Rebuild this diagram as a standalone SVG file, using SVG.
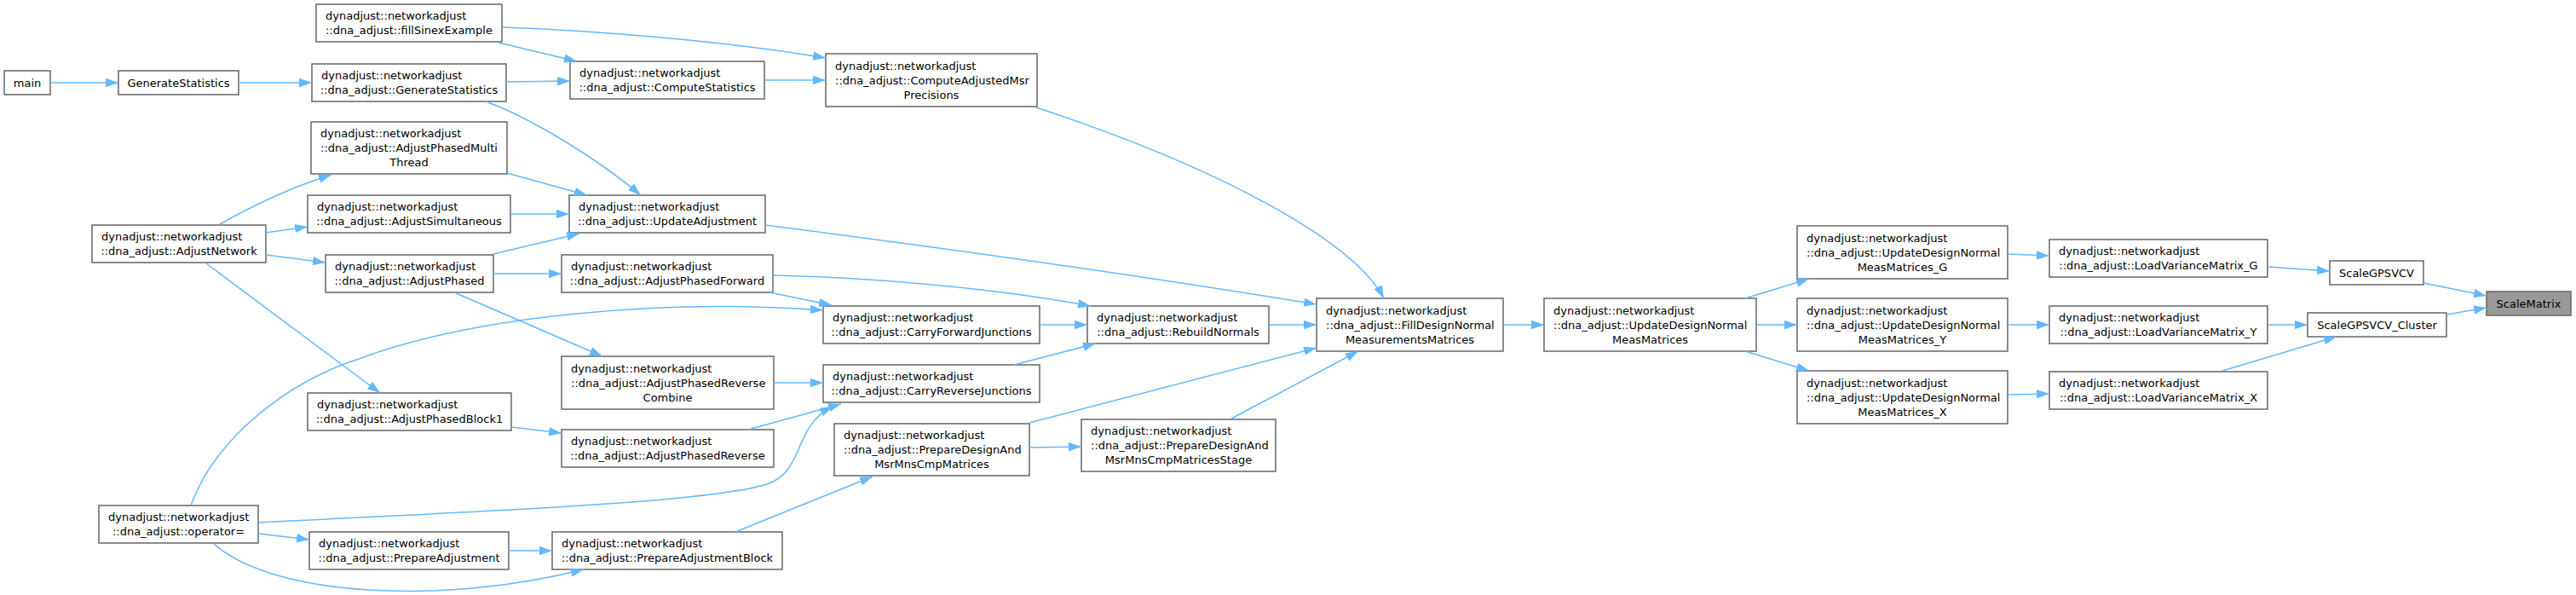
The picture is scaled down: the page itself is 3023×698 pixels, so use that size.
<svg xmlns="http://www.w3.org/2000/svg" width="3023" height="698" viewBox="0 0 3023 698">
<defs>
<style>
.node rect{fill:#ffffff;stroke:#666666;stroke-width:1.5}
.node.hl rect{fill:#999999}
text{font-family:"DejaVu Sans","Liberation Sans",sans-serif;font-size:13px;fill:#000000}
.c{text-anchor:middle}
.edges path{fill:none;stroke:#63b8ff;stroke-width:1.5;marker-end:url(#arr)}
</style>
<marker id="arr" markerUnits="userSpaceOnUse" markerWidth="16" markerHeight="11" refX="15" refY="5.25" orient="auto">
<path d="M0,0 L15,5.25 L0,10.5 z" fill="#63b8ff" stroke="none"/>
</marker>
</defs>
<rect x="0" y="0" width="3023" height="698" fill="#ffffff"/>

<g id="n_main" class="node"><rect x="5" y="83" width="54" height="28"/><text class="c" x="32" y="101.5">main</text></g>
<g id="n_GenerateStatistics" class="node"><rect x="139" y="83" width="141" height="28"/><text class="c" x="209.5" y="101.5">GenerateStatistics</text></g>
<g id="n_dna_GenerateStatistics" class="node"><rect x="366" y="75" width="228" height="44"/><text x="377" y="93">dynadjust::networkadjust</text><text class="c" x="480" y="110">::dna_adjust::GenerateStatistics</text></g>
<g id="n_fillSinexExample" class="node"><rect x="371" y="5" width="218" height="44"/><text x="382" y="23">dynadjust::networkadjust</text><text class="c" x="480" y="40">::dna_adjust::fillSinexExample</text></g>
<g id="n_ComputeStatistics" class="node"><rect x="669" y="72" width="228" height="44"/><text x="680" y="90">dynadjust::networkadjust</text><text class="c" x="783" y="107">::dna_adjust::ComputeStatistics</text></g>
<g id="n_ComputeAdjustedMsrPrecisions" class="node"><rect x="969" y="63" width="248" height="62"/><text x="980" y="81.5">dynadjust::networkadjust</text><text x="980" y="98.5">::dna_adjust::ComputeAdjustedMsr</text><text class="c" x="1093" y="115.5">Precisions</text></g>
<g id="n_AdjustPhasedMultiThread" class="node"><rect x="365" y="143" width="230" height="61"/><text x="376" y="161">dynadjust::networkadjust</text><text x="376" y="178">::dna_adjust::AdjustPhasedMulti</text><text class="c" x="480" y="195">Thread</text></g>
<g id="n_AdjustSimultaneous" class="node"><rect x="361" y="229" width="238" height="44"/><text x="372" y="247">dynadjust::networkadjust</text><text class="c" x="480" y="264">::dna_adjust::AdjustSimultaneous</text></g>
<g id="n_UpdateAdjustment" class="node"><rect x="668" y="229" width="230" height="44"/><text x="679" y="247">dynadjust::networkadjust</text><text class="c" x="783" y="264">::dna_adjust::UpdateAdjustment</text></g>
<g id="n_AdjustNetwork" class="node"><rect x="108" y="264" width="204" height="44"/><text x="119" y="282">dynadjust::networkadjust</text><text class="c" x="210" y="299">::dna_adjust::AdjustNetwork</text></g>
<g id="n_AdjustPhased" class="node"><rect x="382" y="299" width="197" height="44"/><text x="393" y="317">dynadjust::networkadjust</text><text class="c" x="480.5" y="334">::dna_adjust::AdjustPhased</text></g>
<g id="n_AdjustPhasedForward" class="node"><rect x="659" y="299" width="248" height="44"/><text x="670" y="317">dynadjust::networkadjust</text><text class="c" x="783" y="334">::dna_adjust::AdjustPhasedForward</text></g>
<g id="n_AdjustPhasedReverseCombine" class="node"><rect x="659" y="418" width="249" height="62"/><text x="670" y="436.5">dynadjust::networkadjust</text><text x="670" y="453.5">::dna_adjust::AdjustPhasedReverse</text><text class="c" x="783.5" y="470.5">Combine</text></g>
<g id="n_AdjustPhasedBlock1" class="node"><rect x="361" y="461" width="239" height="44"/><text x="372" y="479">dynadjust::networkadjust</text><text class="c" x="480.5" y="496">::dna_adjust::AdjustPhasedBlock1</text></g>
<g id="n_AdjustPhasedReverse" class="node"><rect x="659" y="504" width="249" height="44"/><text x="670" y="522">dynadjust::networkadjust</text><text class="c" x="783.5" y="539">::dna_adjust::AdjustPhasedReverse</text></g>
<g id="n_operator_assign" class="node"><rect x="116" y="593" width="187" height="44"/><text x="127" y="611">dynadjust::networkadjust</text><text class="c" x="209.5" y="628">::dna_adjust::operator=</text></g>
<g id="n_PrepareAdjustment" class="node"><rect x="363" y="624" width="234" height="44"/><text x="374" y="642">dynadjust::networkadjust</text><text class="c" x="480" y="659">::dna_adjust::PrepareAdjustment</text></g>
<g id="n_PrepareAdjustmentBlock" class="node"><rect x="648" y="624" width="270" height="44"/><text x="659" y="642">dynadjust::networkadjust</text><text class="c" x="783" y="659">::dna_adjust::PrepareAdjustmentBlock</text></g>
<g id="n_CarryForwardJunctions" class="node"><rect x="966" y="359" width="254" height="44"/><text x="977" y="377">dynadjust::networkadjust</text><text class="c" x="1093" y="394">::dna_adjust::CarryForwardJunctions</text></g>
<g id="n_CarryReverseJunctions" class="node"><rect x="966" y="428" width="254" height="44"/><text x="977" y="446">dynadjust::networkadjust</text><text class="c" x="1093" y="463">::dna_adjust::CarryReverseJunctions</text></g>
<g id="n_RebuildNormals" class="node"><rect x="1276" y="359" width="213" height="44"/><text x="1287" y="377">dynadjust::networkadjust</text><text class="c" x="1382.5" y="394">::dna_adjust::RebuildNormals</text></g>
<g id="n_FillDesignNormalMeasurementsMatrices" class="node"><rect x="1545" y="350" width="219" height="62"/><text x="1556" y="368.5">dynadjust::networkadjust</text><text x="1556" y="385.5">::dna_adjust::FillDesignNormal</text><text class="c" x="1654.5" y="402.5">MeasurementsMatrices</text></g>
<g id="n_PrepareDesignAndMsrMnsCmpMatrices" class="node"><rect x="979" y="497" width="229" height="61"/><text x="990" y="515">dynadjust::networkadjust</text><text x="990" y="532">::dna_adjust::PrepareDesignAnd</text><text class="c" x="1093.5" y="549">MsrMnsCmpMatrices</text></g>
<g id="n_PrepareDesignAndMsrMnsCmpMatricesStage" class="node"><rect x="1269" y="492" width="228" height="61"/><text x="1280" y="510">dynadjust::networkadjust</text><text x="1280" y="527">::dna_adjust::PrepareDesignAnd</text><text class="c" x="1383" y="544">MsrMnsCmpMatricesStage</text></g>
<g id="n_UpdateDesignNormalMeasMatrices" class="node"><rect x="1812" y="350" width="249" height="62"/><text x="1823" y="368.5">dynadjust::networkadjust</text><text x="1823" y="385.5">::dna_adjust::UpdateDesignNormal</text><text class="c" x="1936.5" y="402.5">MeasMatrices</text></g>
<g id="n_UpdateDesignNormalMeasMatrices_G" class="node"><rect x="2109" y="265" width="247" height="62"/><text x="2120" y="283.5">dynadjust::networkadjust</text><text x="2120" y="300.5">::dna_adjust::UpdateDesignNormal</text><text class="c" x="2232.5" y="317.5">MeasMatrices_G</text></g>
<g id="n_UpdateDesignNormalMeasMatrices_Y" class="node"><rect x="2109" y="350" width="247" height="62"/><text x="2120" y="368.5">dynadjust::networkadjust</text><text x="2120" y="385.5">::dna_adjust::UpdateDesignNormal</text><text class="c" x="2232.5" y="402.5">MeasMatrices_Y</text></g>
<g id="n_UpdateDesignNormalMeasMatrices_X" class="node"><rect x="2109" y="435" width="247" height="62"/><text x="2120" y="453.5">dynadjust::networkadjust</text><text x="2120" y="470.5">::dna_adjust::UpdateDesignNormal</text><text class="c" x="2232.5" y="487.5">MeasMatrices_X</text></g>
<g id="n_LoadVarianceMatrix_G" class="node"><rect x="2405" y="281" width="256" height="44"/><text x="2416" y="299">dynadjust::networkadjust</text><text class="c" x="2533" y="316">::dna_adjust::LoadVarianceMatrix_G</text></g>
<g id="n_LoadVarianceMatrix_Y" class="node"><rect x="2405" y="359" width="256" height="44"/><text x="2416" y="377">dynadjust::networkadjust</text><text class="c" x="2533" y="394">::dna_adjust::LoadVarianceMatrix_Y</text></g>
<g id="n_LoadVarianceMatrix_X" class="node"><rect x="2405" y="436" width="256" height="44"/><text x="2416" y="454">dynadjust::networkadjust</text><text class="c" x="2533" y="471">::dna_adjust::LoadVarianceMatrix_X</text></g>
<g id="n_ScaleGPSVCV" class="node"><rect x="2734" y="306" width="110" height="28"/><text class="c" x="2789" y="324.5">ScaleGPSVCV</text></g>
<g id="n_ScaleGPSVCV_Cluster" class="node"><rect x="2708" y="367" width="163" height="28"/><text class="c" x="2789.5" y="385.5">ScaleGPSVCV_Cluster</text></g>
<g id="n_ScaleMatrix" class="node hl"><rect x="2918" y="342" width="99" height="28"/><text class="c" x="2967.5" y="360.5">ScaleMatrix</text></g>

<g id="edges" class="edges">
<path d="M59,97 L139,97"/>
<path d="M280,97 L366,97"/>
<path d="M594,96 L669,95"/>
<path d="M570,119 C620,137 700,185 752,229"/>
<path d="M585,50 L677,72"/>
<path d="M589,32 C700,36 850,48 969,68"/>
<path d="M897,94 L969,94"/>
<path d="M1216,126 C1440,200 1590,285 1624,350"/>
<path d="M898,264 C1100,290 1350,325 1545,357"/>
<path d="M595,203 L689,229"/>
<path d="M599,251 L668,251"/>
<path d="M258,263 C290,245 340,220 389,205"/>
<path d="M312,273 L361,266"/>
<path d="M312,299 L382,308"/>
<path d="M242,309 L446,461"/>
<path d="M579,298 L680,274"/>
<path d="M579,321 L659,321"/>
<path d="M533,343 L707,418"/>
<path d="M903,343 L976,358"/>
<path d="M907,323 C1000,325 1150,335 1280,359"/>
<path d="M224,593 C250,520 330,450 424,420 C560,370 780,350 966,364"/>
<path d="M303,613 C560,600 830,590 900,568 C945,553 930,500 977,477"/>
<path d="M878,504 L987,474"/>
<path d="M908,449 L966,449"/>
<path d="M600,501 L659,508"/>
<path d="M1220,381 L1276,381"/>
<path d="M1190,428 L1286,403"/>
<path d="M1489,381 L1545,381"/>
<path d="M1208,496 L1545,408"/>
<path d="M1208,525 L1269,524"/>
<path d="M1445,491 L1594,412"/>
<path d="M863,624 L1024,559"/>
<path d="M597,646 L648,646"/>
<path d="M303,626 L363,633"/>
<path d="M251,638 C320,700 520,710 685,668"/>
<path d="M1764,381 L1812,381"/>
<path d="M2048,350 L2123,327"/>
<path d="M2061,381 L2109,381"/>
<path d="M2048,412 L2123,435"/>
<path d="M2356,298 L2405,300"/>
<path d="M2356,381 L2405,381"/>
<path d="M2356,463 L2405,462"/>
<path d="M2661,313 L2734,318"/>
<path d="M2661,381 L2708,381"/>
<path d="M2608,435 L2742,395"/>
<path d="M2844,332 L2918,347"/>
<path d="M2871,369 L2918,361"/>
</g>
</svg>
